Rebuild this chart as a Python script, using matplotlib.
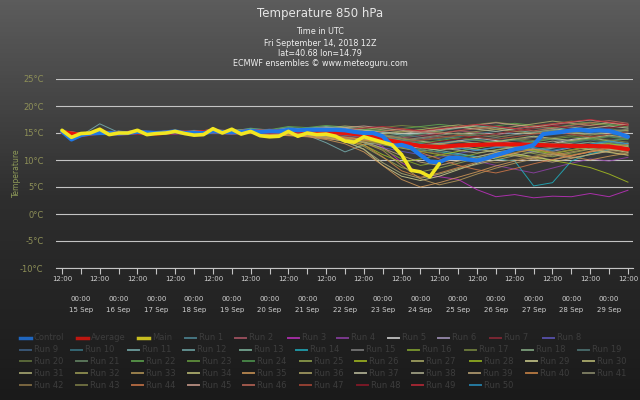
import numpy as np
import matplotlib
matplotlib.use("Agg")
import matplotlib.pyplot as plt
from matplotlib.colors import LinearSegmentedColormap
from matplotlib import transforms

# --- data (degC), from Fri 14 Sep 2018 12Z ---
# control and main are 6-hourly, average and runs are 12-hourly
control = [15.3, 13.8, 14.6, 14.9, 15.0, 15.0, 14.9, 15.0, 15.2, 15.1, 15.0, 15.1,
           15.3, 15.0, 15.0, 15.0, 15.3, 15.2, 15.1, 15.2, 15.4, 15.2, 15.3, 15.3,
           15.6, 15.5, 15.6, 15.6, 15.6, 15.6, 15.5, 15.2, 15.0, 15.0, 14.4, 12.6,
           12.8, 12.3, 10.9, 9.7, 9.6, 10.4, 10.4, 10.1, 9.9, 10.3, 10.9, 11.4,
           12.0, 12.3, 12.8, 14.8, 15.0, 15.2, 15.5, 15.6, 15.4, 15.5, 15.4, 14.9, 14.3]
main = [15.5, 14.2, 14.9, 15.0, 15.7, 14.7, 15.0, 15.0, 15.5, 14.7, 14.9, 15.0,
        15.3, 14.9, 14.6, 14.7, 15.8, 15.0, 15.7, 14.8, 15.3, 14.5, 14.3, 14.4,
        15.3, 14.4, 15.0, 14.7, 14.8, 14.4, 13.5, 13.3, 14.3, 13.8, 13.3, 12.8,
        11.0, 8.1, 7.8, 6.9, 9.3]
average = [15.2, 14.6, 15.1, 14.9, 15.1, 14.9, 15.2, 15.0, 15.3, 15.1, 15.3, 15.2,
           15.4, 15.3, 15.2, 15.0, 14.6, 13.8, 13.2, 12.6, 12.4, 12.7, 12.8, 12.9,
           12.9, 12.8, 12.7, 12.6, 12.6, 12.5, 12.0]

run1 = [15.2, 14.6, 15.1, 15.3, 15.0, 14.8, 15.4, 15.2, 15.6, 15.3, 15.9, 15.5, 16.1,
        15.7, 15.3, 14.9, 14.2, 13.6, 13.1, 12.8, 13.2, 13.6, 13.1, 12.5, 12.9, 13.4, 13.9, 13.3, 12.8, 13.6, 14.0]
run2 = [15.0, 14.5, 15.2, 15.0, 15.4, 14.9, 15.1, 15.4, 15.5, 15.0, 15.3, 15.7, 15.5,
        15.9, 16.1, 15.6, 15.2, 14.7, 14.1, 14.5, 15.0, 15.4, 15.1, 14.6, 15.3, 15.9, 16.4, 16.0, 16.5, 16.9, 16.2]
run3 = [15.1, 14.8, 15.0, 14.9, 15.3, 15.0, 14.8, 15.1, 15.4, 15.2, 15.0, 14.7, 14.9,
        14.6, 14.8, 14.3, 14.0, 12.5, 9.5, 7.5, 6.9, 6.4, 4.5, 3.2, 3.6, 3.0, 3.3, 3.2, 3.8, 3.2, 4.4]
run4 = [15.3, 14.7, 14.9, 15.1, 15.2, 14.8, 15.0, 15.3, 15.1, 14.9, 15.4, 15.2, 15.6,
        15.1, 15.2, 14.6, 14.0, 13.5, 12.8, 12.0, 11.4, 10.8, 9.8, 9.0, 8.3, 7.6, 8.5, 9.4, 10.2, 9.8, 10.5]
run5 = [15.4, 15.0, 15.3, 14.8, 15.1, 15.2, 15.5, 14.9, 15.2, 15.4, 15.6, 15.1, 15.3,
        15.5, 15.0, 14.4, 13.8, 13.2, 12.7, 12.2, 12.9, 13.5, 14.0, 13.6, 13.1, 12.6, 13.0, 13.8, 14.2, 13.5, 13.0]
run6 = [14.9, 14.4, 15.1, 15.2, 14.9, 15.0, 15.3, 15.1, 15.7, 15.2, 15.0, 15.4, 15.8,
        15.3, 15.6, 15.9, 15.2, 14.5, 13.6, 13.0, 12.4, 12.0, 12.6, 13.2, 12.8, 12.1, 11.6, 12.3, 12.9, 12.4, 11.9]
run7 = [15.2, 14.9, 15.0, 15.2, 15.5, 15.1, 15.2, 15.0, 15.3, 15.6, 15.4, 15.0, 15.2,
        15.0, 14.7, 14.9, 14.5, 14.0, 13.7, 14.2, 14.8, 15.5, 16.0, 15.7, 15.2, 15.8, 16.4, 16.9, 16.5, 16.0, 16.4]
run8 = [15.0, 14.6, 14.8, 15.0, 15.2, 14.7, 15.1, 15.3, 15.0, 14.8, 15.2, 15.5, 15.1,
        14.8, 15.0, 14.1, 13.2, 12.3, 11.6, 11.0, 10.5, 11.2, 11.8, 12.4, 12.0, 11.5, 12.2, 12.8, 12.3, 11.7, 12.1]
run9 = [15.3, 14.8, 15.2, 15.4, 15.1, 15.0, 15.2, 15.5, 15.3, 15.1, 15.5, 15.7, 15.4,
        15.6, 15.3, 15.0, 14.6, 14.2, 13.9, 13.5, 13.1, 13.4, 13.8, 13.3, 12.9, 13.5, 14.0, 13.6, 13.1, 12.7, 13.2]
run10 = [15.1, 14.7, 15.0, 15.1, 15.3, 14.9, 15.4, 15.2, 15.5, 15.0, 15.6, 15.3, 15.9,
         15.4, 15.8, 16.1, 15.7, 15.2, 14.7, 14.2, 13.8, 14.3, 14.9, 15.3, 14.8, 14.3, 14.9, 15.4, 15.0, 14.6, 15.1]
run11 = [15.0, 14.5, 16.7, 15.1, 15.2, 15.0, 15.3, 15.1, 15.4, 15.3, 15.2, 15.6, 15.0,
         14.6, 13.2, 11.5, 12.8, 13.5, 13.0, 12.3, 11.8, 11.2, 10.6, 11.3, 11.9, 12.6, 13.1, 12.5, 12.0, 12.6, 13.0]
run12 = [15.2, 14.9, 15.1, 15.2, 15.0, 15.1, 15.3, 15.0, 15.6, 15.2, 15.4, 15.2, 15.5,
         15.2, 14.9, 14.4, 14.1, 13.8, 13.4, 13.0, 12.6, 12.2, 11.8, 12.3, 12.9, 13.4, 12.8, 12.3, 12.9, 13.3, 12.7]
run13 = [15.4, 14.8, 15.0, 15.3, 15.2, 15.0, 15.4, 15.1, 15.3, 15.5, 15.7, 15.3, 15.6,
         15.9, 16.2, 16.0, 15.6, 15.1, 14.6, 14.9, 15.4, 15.9, 16.3, 16.0, 15.5, 15.1, 15.6, 16.1, 15.7, 15.2, 15.5]
run14 = [15.0, 14.6, 15.2, 15.0, 15.1, 14.8, 15.2, 15.4, 15.0, 15.1, 15.3, 15.0, 15.2,
         15.0, 14.7, 14.3, 13.8, 13.1, 12.4, 11.9, 11.5, 11.0, 10.6, 10.2, 9.8, 5.2, 5.8, 9.8, 11.2, 11.8, 12.5]
run15 = [15.1, 14.7, 15.1, 14.9, 15.3, 15.0, 15.1, 15.2, 15.4, 15.0, 15.2, 15.4, 15.3,
         15.1, 14.8, 14.5, 14.2, 13.9, 13.5, 13.9, 14.4, 14.0, 13.6, 13.2, 13.7, 14.2, 13.8, 13.4, 13.9, 14.4, 14.0]
run16 = [15.2, 14.8, 14.9, 15.2, 15.0, 14.7, 15.0, 15.3, 15.1, 15.2, 14.9, 15.3, 15.0,
         14.7, 14.3, 13.9, 13.2, 12.0, 10.2, 9.0, 9.6, 10.4, 11.2, 11.9, 12.5, 11.9, 11.3, 11.9, 12.6, 13.1, 12.4]
run17 = [15.0, 14.4, 15.0, 15.1, 15.4, 15.1, 15.2, 15.0, 15.5, 15.3, 15.1, 15.5, 15.7,
         15.4, 15.1, 15.3, 15.6, 16.0, 16.4, 16.1, 15.7, 16.2, 16.6, 17.0, 16.6, 16.2, 16.7, 17.2, 16.8, 16.4, 16.6]
run18 = [15.3, 14.9, 15.2, 15.0, 15.2, 15.1, 15.0, 15.4, 15.2, 15.0, 15.3, 15.1, 15.4,
         15.1, 14.6, 14.0, 13.3, 12.8, 12.2, 11.6, 12.1, 12.7, 13.2, 12.6, 12.1, 11.6, 12.2, 12.8, 13.3, 12.9, 12.4]
run19 = [14.9, 14.5, 15.1, 15.3, 15.0, 14.9, 15.2, 15.0, 15.3, 15.1, 15.4, 15.0, 15.5,
         15.2, 14.8, 14.5, 14.8, 14.2, 13.7, 13.3, 12.9, 13.3, 13.7, 14.1, 13.6, 13.2, 12.7, 13.2, 13.7, 13.2, 12.8]
run20 = [15.2, 14.7, 15.0, 15.2, 15.3, 14.8, 15.1, 15.2, 15.0, 14.9, 15.2, 15.4, 15.1,
         14.8, 14.5, 14.0, 13.5, 13.1, 12.6, 12.0, 11.4, 10.8, 10.3, 10.8, 11.4, 12.0, 11.5, 11.0, 11.6, 12.2, 11.8]
run21 = [15.0, 14.6, 15.2, 15.1, 15.2, 15.0, 15.3, 15.1, 15.4, 15.2, 15.5, 15.3, 15.7,
         15.5, 15.8, 15.5, 15.1, 14.7, 14.3, 14.8, 15.2, 14.8, 14.4, 14.9, 15.4, 15.9, 15.5, 15.0, 15.4, 15.8, 15.3]
run22 = [15.1, 14.8, 15.0, 15.3, 15.1, 14.9, 15.2, 15.3, 15.6, 15.4, 15.8, 15.6, 16.2,
         16.0, 16.4, 16.1, 15.7, 15.4, 15.8, 16.2, 16.6, 16.2, 15.8, 16.3, 16.8, 16.4, 16.0, 16.5, 17.0, 16.6, 16.1]
run23 = [15.3, 14.9, 15.1, 15.0, 15.3, 15.1, 15.0, 15.2, 15.4, 15.1, 15.0, 15.2, 15.3,
         15.0, 14.6, 14.2, 13.7, 13.2, 12.7, 13.1, 13.6, 14.1, 13.7, 13.2, 12.8, 13.3, 13.9, 14.3, 13.9, 13.5, 13.9]
run24 = [15.0, 14.5, 15.1, 15.2, 15.0, 15.1, 15.2, 14.9, 15.3, 15.2, 15.5, 15.1, 15.4,
         15.2, 15.0, 14.7, 14.3, 14.0, 13.6, 13.2, 12.8, 12.4, 12.9, 13.4, 13.8, 13.3, 12.9, 13.4, 13.9, 14.3, 13.8]
run25 = [15.2, 14.8, 15.1, 15.0, 15.2, 14.8, 15.1, 15.3, 15.1, 14.9, 15.1, 15.3, 15.0,
         14.7, 14.2, 13.6, 12.5, 10.5, 8.6, 7.8, 8.5, 9.4, 10.3, 11.1, 11.8, 11.2, 10.6, 11.3, 12.0, 12.6, 12.1]
run26 = [15.1, 14.6, 15.0, 15.1, 15.3, 15.0, 15.2, 15.0, 15.2, 15.3, 15.1, 15.4, 15.2,
         14.9, 14.5, 14.1, 13.6, 13.0, 12.3, 11.6, 11.0, 10.4, 9.8, 10.4, 11.0, 10.5, 9.9, 9.3, 8.6, 7.4, 5.9]
run27 = [15.0, 14.7, 15.1, 15.3, 15.1, 14.9, 15.3, 15.1, 15.5, 15.2, 15.6, 15.4, 15.8,
         15.6, 15.9, 16.3, 16.0, 15.6, 15.2, 15.6, 16.1, 16.5, 16.1, 15.7, 16.2, 16.7, 17.2, 16.8, 16.4, 16.9, 16.5]
run28 = [15.3, 14.9, 15.2, 15.0, 15.2, 15.0, 15.1, 15.2, 15.3, 15.0, 15.2, 15.0, 15.3,
         15.0, 14.6, 14.0, 12.8, 11.0, 9.6, 10.2, 10.9, 11.6, 12.2, 12.8, 12.3, 11.7, 11.2, 11.8, 12.4, 13.0, 12.6]
run29 = [15.1, 14.7, 15.0, 15.2, 15.0, 14.8, 15.2, 15.0, 15.3, 15.1, 15.0, 14.8, 14.6,
         14.4, 14.0, 13.5, 12.0, 9.0, 7.0, 6.2, 7.0, 8.2, 9.4, 10.5, 11.2, 10.6, 10.0, 10.8, 11.5, 12.0, 11.4]
run30 = [15.2, 14.8, 15.1, 15.0, 15.3, 15.0, 15.2, 15.1, 15.4, 15.2, 15.3, 15.0, 15.2,
         15.0, 14.8, 14.4, 13.9, 13.3, 12.8, 12.3, 11.8, 12.3, 12.9, 13.4, 13.9, 14.4, 14.0, 13.6, 14.1, 14.6, 14.2]
run31 = [15.0, 14.6, 15.1, 15.1, 15.2, 15.0, 15.0, 15.3, 15.1, 14.9, 15.2, 15.1, 15.0,
         14.6, 14.2, 13.4, 12.0, 9.5, 7.5, 6.6, 7.4, 8.4, 9.2, 10.0, 10.8, 11.5, 11.0, 10.4, 11.0, 11.7, 12.3]
run32 = [15.2, 14.9, 15.0, 15.3, 15.1, 14.9, 15.1, 15.2, 15.3, 15.1, 15.4, 15.2, 15.5,
         15.3, 15.0, 14.7, 14.4, 14.8, 15.2, 15.6, 15.2, 14.8, 15.3, 15.7, 15.3, 14.9, 15.4, 15.0, 14.6, 15.1, 15.5]
run33 = [15.1, 14.7, 15.2, 15.0, 15.2, 15.0, 15.3, 15.0, 15.2, 15.3, 15.1, 14.9, 14.7,
         14.5, 14.2, 13.8, 13.2, 11.8, 9.0, 6.5, 5.4, 6.2, 7.4, 8.5, 9.4, 10.2, 10.9, 11.5, 12.1, 11.5, 10.9]
run34 = [15.3, 14.8, 15.1, 15.2, 15.0, 15.1, 15.2, 15.3, 15.5, 15.2, 15.5, 15.3, 15.6,
         15.4, 15.6, 15.3, 15.0, 14.5, 14.0, 13.5, 13.0, 12.5, 12.0, 11.5, 11.9, 12.4, 12.9, 12.4, 11.9, 11.4, 10.9]
run35 = [15.0, 14.5, 15.0, 15.2, 15.1, 14.8, 15.0, 15.2, 15.0, 14.8, 15.0, 14.7, 14.5,
         14.3, 13.8, 13.0, 11.5, 9.0, 6.4, 5.0, 5.8, 6.8, 7.8, 8.9, 9.8, 10.5, 11.2, 10.6, 10.0, 10.7, 11.3]
run36 = [15.2, 14.8, 15.2, 15.1, 15.3, 15.0, 15.2, 15.1, 15.3, 15.0, 15.2, 15.4, 15.1,
         14.9, 14.6, 14.2, 13.8, 13.4, 13.0, 12.6, 13.0, 13.5, 13.1, 12.7, 12.3, 11.9, 12.4, 12.9, 12.5, 12.0, 11.6]
run37 = [15.1, 14.7, 15.0, 15.3, 15.2, 15.0, 15.3, 15.2, 15.6, 15.3, 15.7, 15.4, 15.9,
         15.7, 16.0, 15.8, 15.5, 15.2, 14.9, 15.3, 15.7, 16.1, 15.7, 15.3, 15.8, 16.2, 15.8, 15.4, 15.9, 16.3, 15.9]
run38 = [15.0, 14.6, 15.1, 15.0, 15.2, 14.9, 15.0, 15.2, 15.4, 15.1, 15.3, 15.2, 15.4,
         15.2, 14.9, 14.6, 14.2, 13.8, 13.3, 12.8, 12.3, 11.8, 11.3, 11.8, 12.4, 12.9, 13.5, 13.0, 12.5, 12.0, 12.6]
run39 = [15.3, 14.9, 15.1, 15.2, 15.1, 15.0, 15.2, 15.1, 15.2, 15.0, 15.1, 14.9, 15.0,
         14.7, 14.4, 14.0, 13.4, 12.2, 10.8, 9.6, 9.0, 9.8, 10.6, 11.4, 10.8, 10.2, 9.6, 10.3, 11.0, 11.6, 12.2]
run40 = [15.1, 14.7, 15.0, 15.1, 15.3, 15.1, 15.1, 15.0, 15.2, 14.9, 15.0, 14.8, 14.6,
         14.4, 14.0, 13.6, 12.8, 10.6, 8.0, 6.8, 7.6, 8.6, 9.6, 10.5, 11.3, 12.0, 11.4, 10.8, 11.5, 12.2, 11.7]
run41 = [15.2, 14.8, 15.1, 15.2, 15.0, 14.9, 15.1, 15.3, 15.4, 15.2, 15.4, 15.6, 15.3,
         15.5, 15.2, 14.9, 14.5, 14.1, 13.7, 14.1, 14.6, 15.0, 14.6, 14.2, 14.7, 15.2, 15.6, 15.2, 14.8, 15.3, 15.7]
run42 = [15.0, 14.6, 15.0, 15.2, 15.1, 14.8, 15.2, 15.0, 15.3, 15.1, 15.2, 15.0, 15.3,
         15.0, 14.6, 14.1, 13.5, 12.9, 12.3, 11.7, 11.1, 10.5, 10.0, 9.5, 10.1, 10.7, 11.3, 11.9, 12.4, 11.8, 11.2]
run43 = [15.2, 14.7, 15.1, 15.0, 15.2, 15.0, 15.3, 15.1, 15.2, 15.3, 15.5, 15.2, 15.4,
         15.2, 14.9, 15.1, 14.8, 14.4, 14.0, 13.6, 14.0, 14.5, 14.9, 14.5, 14.0, 13.6, 14.1, 14.6, 14.2, 13.7, 13.3]
run44 = [15.1, 14.8, 15.0, 15.1, 15.2, 15.0, 15.1, 15.2, 15.3, 15.0, 15.1, 15.2, 15.0,
         14.8, 14.5, 14.1, 13.7, 13.3, 12.6, 11.4, 10.2, 9.0, 8.2, 7.6, 8.4, 9.3, 10.1, 10.8, 11.6, 12.3, 12.9]
run45 = [15.0, 14.7, 15.2, 15.1, 15.3, 15.1, 15.2, 15.3, 15.5, 15.2, 15.6, 15.4, 15.7,
         15.5, 15.7, 16.0, 16.3, 15.9, 15.5, 15.1, 15.6, 16.0, 16.5, 16.9, 16.5, 16.1, 16.6, 17.0, 17.4, 16.9, 16.5]
run46 = [15.3, 14.9, 15.2, 15.1, 15.2, 15.0, 15.3, 15.1, 15.4, 15.2, 15.5, 15.3, 15.5,
         15.3, 15.0, 14.6, 14.9, 15.3, 15.7, 15.3, 14.9, 15.4, 15.8, 16.2, 15.8, 15.4, 15.9, 16.4, 16.9, 17.3, 16.8]
run47 = [15.1, 14.6, 15.1, 15.0, 15.3, 15.0, 15.1, 15.2, 15.3, 15.1, 15.2, 15.4, 15.2,
         15.0, 14.7, 14.4, 14.0, 13.7, 13.3, 13.7, 14.2, 14.6, 14.2, 13.8, 14.3, 14.8, 15.2, 14.8, 14.3, 14.8, 15.2]
run48 = [15.2, 14.8, 15.0, 15.2, 15.1, 15.0, 15.2, 15.0, 15.3, 15.1, 15.3, 15.1, 15.4,
         15.1, 14.8, 14.5, 14.1, 13.7, 13.3, 12.9, 13.4, 13.9, 14.4, 14.9, 15.4, 15.9, 16.3, 15.9, 15.4, 15.9, 16.5]
run49 = [15.0, 14.7, 15.1, 15.3, 15.2, 14.9, 15.1, 15.3, 15.6, 15.3, 15.6, 15.4, 15.7,
         15.6, 15.3, 15.6, 15.9, 16.2, 15.8, 15.4, 15.8, 16.2, 16.6, 16.2, 15.8, 16.3, 16.7, 17.1, 17.5, 17.0, 16.6]
run50 = [15.1, 14.8, 15.1, 15.0, 15.2, 15.1, 15.2, 15.1, 15.4, 15.2, 15.3, 15.2, 15.5,
         15.3, 15.0, 14.6, 14.2, 13.8, 13.4, 13.0, 12.6, 12.2, 11.8, 12.3, 12.8, 12.3, 11.8, 12.4, 12.9, 13.5, 13.0]

runs = [run1, run2, run3, run4, run5, run6, run7, run8, run9, run10,
        run11, run12, run13, run14, run15, run16, run17, run18, run19, run20,
        run21, run22, run23, run24, run25, run26, run27, run28, run29, run30,
        run31, run32, run33, run34, run35, run36, run37, run38, run39, run40,
        run41, run42, run43, run44, run45, run46, run47, run48, run49, run50]

run_colors = ['#4f8a9a', '#b05868', '#c030c0', '#9040a8', '#d8d8d8', '#a898c0', '#902838', '#6058c0',
              '#40648a', '#3a7888', '#78b0b0', '#70a8a8', '#80b8a0', '#20b0c0', '#808080', '#88aa30',
              '#7a8a40', '#88b088', '#507878', '#687a40', '#688a68', '#60aa50', '#68a040', '#509a50',
              '#98aa50', '#a8c020', '#b0b068', '#a0c020', '#d0d090', '#c0c078', '#b0b078', '#a0a058',
              '#b89858', '#c0c078', '#d09858', '#b0a868', '#c0c0a0', '#b0b090', '#c0a878', '#d08848',
              '#909070', '#907848', '#808048', '#d07848', '#d0a090', '#c06858', '#b04838', '#901828',
              '#c02838', '#2890c0']

control_color = '#1f78e8'
average_color = '#e6140c'
main_color = '#f2e620'

day_labels = ['15 Sep', '16 Sep', '17 Sep', '18 Sep', '19 Sep', '20 Sep', '21 Sep', '22 Sep',
              '23 Sep', '24 Sep', '25 Sep', '26 Sep', '27 Sep', '28 Sep', '29 Sep']
subtitle = ['Time in UTC', 'Fri September 14, 2018 12Z', 'lat=40.68 lon=14.79',
            'ECMWF ensembles \u00a9 www.meteoguru.com']

t6 = np.arange(len(control)) * 0.25
tm = np.arange(len(main)) * 0.25
t12 = np.arange(len(run1)) * 0.5

fig = plt.figure(figsize=(6.4, 4), dpi=100)

# background in pixel coordinates
bg = fig.add_axes([0, 0, 1, 1], zorder=0)
cmap = LinearSegmentedColormap.from_list('bg', ['#5c5c5c', '#2e2e2e', '#1a1a1a'])
bg.imshow(np.linspace(0, 1, 400)[:, None], cmap=cmap, aspect='auto', extent=[0, 640, 400, 0])
bg.set_xlim(0, 640)
bg.set_ylim(400, 0)
bg.axis('off')

ax = fig.add_axes([56 / 640, 132 / 400, 577 / 640, 189 / 400], zorder=1)
ax.patch.set_alpha(0)
ax.set_xlim(-6 / 37.73, 571 / 37.73)
ax.set_ylim(-10, 25)

for run, c in zip(runs, run_colors):
    ax.plot(t12, run, color=c, lw=0.7, alpha=0.85)
ax.plot(t12, average, color=average_color, lw=3.0, solid_capstyle='round')
ax.plot(t6, control, color=control_color, lw=3.0, solid_capstyle='round')
ax.plot(tm, main, color=main_color, lw=2.6, solid_capstyle='round')

yt = list(range(-10, 30, 5))
ax.set_yticks(yt)
ax.set_yticklabels([f'{v}\u00b0C' for v in yt])
ax.yaxis.grid(True, color='#c4c4c4', lw=0.8)
ax.set_axisbelow(True)
ax.tick_params(axis='y', length=0, pad=9, labelsize=6, labelcolor='#8e9058')
for s in ['top', 'left', 'right']:
    ax.spines[s].set_visible(False)
ax.spines['bottom'].set_color('#c4c4c4')
ax.spines['bottom'].set_linewidth(0.8)

ax.set_xticks(np.arange(0, 15.01, 1))
ax.set_xticklabels(['12:00'] * 16)
ax.set_xticks(np.arange(0.5, 15, 1), minor=True)
ax.tick_params(axis='x', which='both', length=4.3, width=0.8, color='#c4c4c4', direction='out')
ax.tick_params(axis='x', which='major', pad=1.5, labelsize=5, labelcolor='#d0d0d0')

trans = transforms.blended_transform_factory(ax.transData, bg.transData)
for k, lab in enumerate(day_labels):
    ax.text(k + 0.5, 299, '00:00', transform=trans, ha='center', va='center', fontsize=5, color='#d0d0d0')
    ax.text(k + 0.5, 310, lab, transform=trans, ha='center', va='center', fontsize=5, color='#d0d0d0')

# titles
bg.text(320, 13, 'Temperature 850 hPa', ha='center', va='center', fontsize=8.5, color='#e6e6e6')
for y, s in zip([32, 43, 54, 64], subtitle):
    bg.text(320, y, s, ha='center', va='center', fontsize=5.8, color='#eeeeee')
bg.text(16, 173, 'Temperature', rotation=90, ha='center', va='center', fontsize=5.5, color='#8e9a58')

# legend (hidden-series look: dim labels)
names = ['Control', 'Average', 'Main'] + [f'Run {i}' for i in range(1, 51)]
colors = [control_color, average_color, main_color] + run_colors
widths = [2.5, 2.5, 2.5] + [1.4] * 50
rows_x = [[20, 77, 138, 185, 235, 288, 337, 388, 438, 490, 543],
          [20, 71, 128, 183, 240, 296, 352, 408, 465, 522, 578],
          [20, 76, 132, 188, 243, 300, 355, 412, 470, 526, 583],
          [20, 76, 132, 188, 243, 300, 355, 412, 469, 526, 583],
          [20, 76, 132, 188, 243, 300, 357, 412, 470]]
rows_y = [338, 349.5, 361, 373, 385]
pos = [(x, y) for xs, y in zip(rows_x, rows_y) for x in xs]
for (x, y), name, c, w in zip(pos, names, colors, widths):
    bg.plot([x, x + 11], [y, y], color=c, lw=w, alpha=0.8)
    bg.text(x + 14, y, name, ha='left', va='center', fontsize=6, color='#3d3d3d')

fig.savefig('out.png', dpi=100)
